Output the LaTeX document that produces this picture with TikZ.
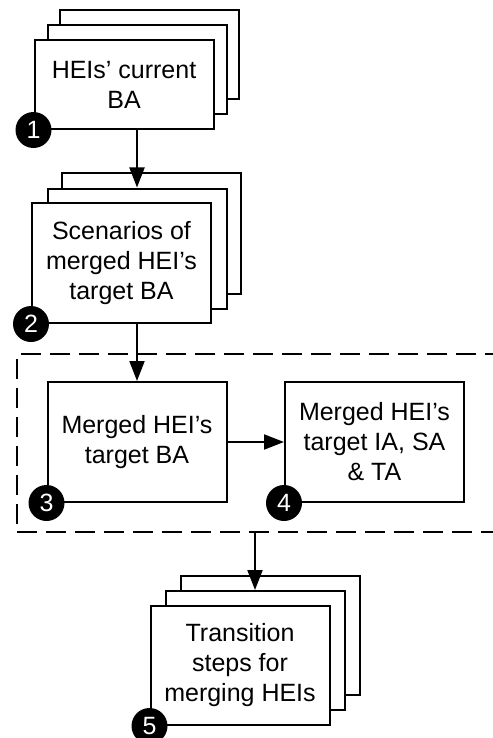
\documentclass[tikz,border=0pt]{standalone}
\usepackage{fontspec}
\setmainfont{Liberation Sans}
\usetikzlibrary{arrows.meta}
\begin{document}
\begin{tikzpicture}[x=1pt, y=-1pt,
  every node/.style={font=\fontsize{25}{30}\selectfont},
  card/.style={draw=black, fill=white, line width=2pt, rectangle,
    minimum width=179pt, inner sep=0pt, align=center},
  badge/.style={circle, fill=black, text=white, minimum size=36pt, inner sep=0pt},
  flow/.style={line width=2pt, -{Triangle[length=20pt,width=15pt]}},
  group/.style={draw=black, line width=2pt, dash pattern=on 20pt off 9pt, rectangle, inner sep=0pt}
]
\useasboundingbox (0,0) rectangle (492,738);

% stack 1: current BA
\node[card, minimum height=89pt] (back1) at (149,55) {};
\node[card, minimum height=89pt] (mid1) at (137,70) {};
\node[card, minimum height=89pt] (front1) at (124,84.5) {HEIs’ current\\BA};
\node[badge] (n1) at (front1.south west) {1};

% stack 2: scenarios
\node[card, minimum height=120pt] (back2) at (151,233.5) {};
\node[card, minimum height=120pt] (mid2) at (137,248.5) {};
\node[card, minimum height=120pt] (front2) at (121.5,263) {Scenarios of\\merged HEI’s\\target BA};
\node[badge] (n2) at (front2.south west) {2};

% grouped target architecture
\node[group, minimum width=503pt, minimum height=178pt] (grp) at (268.5,443) {};
\node[card, minimum height=120pt] (ba) at (137,442) {Merged HEI’s\\target BA};
\node[badge] (n3) at (ba.south west) {3};
\node[card, minimum height=120pt] (ia) at (374.5,442) {Merged HEI’s\\target IA, SA\\\& TA};
\node[badge] (n4) at (ia.south west) {4};

% stack 5: transition steps
\node[card, minimum height=119pt] (back5) at (270,635.5) {};
\node[card, minimum height=119pt] (mid5) at (255,650.5) {};
\node[card, minimum height=119pt] (front5) at (240,665.5) {Transition\\steps for\\merging HEIs};
\node[badge] (n5) at (front5.south west) {5};

% connectors
\draw[flow] (front1.south -| mid1.north) -- (mid2.north);
\draw[flow] (front2.south -| mid2.north) -- (ba.north);
\draw[flow] (ba.east) -- (ia.west);
\draw[flow] (grp.south -| mid5.north) -- (mid5.north);
\end{tikzpicture}
\end{document}
